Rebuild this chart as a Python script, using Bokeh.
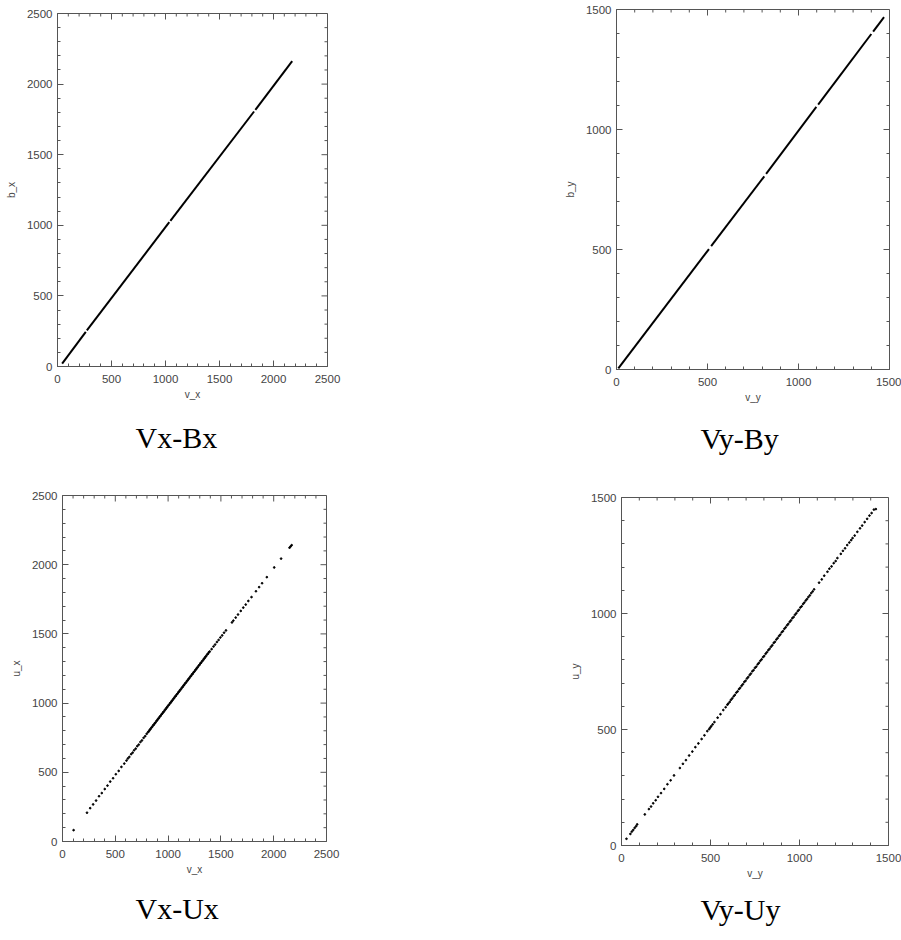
import math

from bokeh.plotting import figure
from bokeh.layouts import column, row
from bokeh.models import Range1d, FixedTicker, Title
from bokeh.embed import file_html
from bokeh.resources import INLINE

# ---- Vx-Bx : continuous runs of points (start / end of each run) ----
bx_v_start = [43, 272, 1045, 1832]
bx_v_end = [262, 1035, 1820, 2173]
bx_b_start = [20, 256, 1032, 1818]
bx_b_end = [245, 1022, 1806, 2162]

# ---- Vy-By : continuous runs of points ----
by_v_start = [10, 520, 822, 1108, 1410]
by_v_end = [508, 812, 1098, 1400, 1470]
by_b_start = [5, 514, 815, 1104, 1408]
by_b_end = [502, 805, 1094, 1398, 1468]

# ---- Vx-Ux : individual samples ----
ux_v = [105, 232, 262, 290, 318, 346, 372, 400, 426, 452, 479, 505, 532, 558, 585,
        606, 619, 633, 650, 664, 678, 693, 708, 722, 738, 752, 768, 783, 797,
        810, 818, 826, 833, 841, 850, 858, 866, 873, 881, 890, 898, 906, 913, 921,
        930, 938, 946, 953, 961, 970, 978, 986, 993, 1001, 1010, 1018, 1026, 1033,
        1041, 1050, 1058, 1066, 1073, 1081, 1090, 1098, 1106, 1113, 1121, 1130, 1138,
        1146, 1153, 1161, 1170, 1178, 1186, 1193, 1201, 1210, 1218, 1226, 1233, 1241,
        1250, 1258, 1266, 1273, 1281, 1290, 1298, 1306, 1313, 1321, 1330, 1338, 1346,
        1353, 1361, 1370, 1378, 1386, 1394,
        1412, 1430, 1445, 1462, 1478, 1495, 1512, 1530, 1548,
        1605, 1618, 1640, 1662, 1688, 1712, 1735, 1760, 1790,
        1832, 1862, 1890, 1935, 2005, 2070, 2150, 2160, 2170]
ux_u = [82, 208, 241, 268, 296, 327, 350, 379, 404, 433, 457, 486, 510, 539, 563,
        585, 600, 611, 631, 642, 659, 671, 689, 700, 719, 730, 749, 761, 778,
        790, 797, 807, 812, 822, 829, 839, 845, 854, 860, 871, 877, 887, 892, 902,
        909, 919, 925, 934, 940, 951, 957, 967, 972, 982, 989, 999, 1005, 1014,
        1020, 1031, 1037, 1047, 1052, 1062, 1069, 1079, 1085, 1094, 1100, 1111, 1117,
        1127, 1132, 1142, 1149, 1159, 1165, 1174, 1180, 1191, 1197, 1207, 1212, 1222,
        1229, 1239, 1245, 1254, 1260, 1271, 1277, 1287, 1292, 1302, 1309, 1319, 1325,
        1334, 1340, 1351, 1357, 1367, 1373,
        1390, 1409, 1423, 1441, 1456, 1474, 1489, 1509, 1525,
        1583, 1596, 1618, 1640, 1666, 1690, 1712, 1738, 1766,
        1808, 1838, 1866, 1910, 1980, 2044, 2123, 2132, 2141]

# ---- Vy-Uy : individual samples ----
uy_v = [28, 50, 58, 66, 74, 82, 88, 131, 154, 166, 178, 192, 205, 222, 240, 258, 276, 295,
        328, 345, 362, 380, 398, 415, 432, 450, 466, 482, 492, 498, 504,
        512, 522, 540, 556, 572, 585, 595,
        600, 608, 615, 622, 630, 637, 645, 652, 660, 667, 675, 682, 690, 697, 705, 712,
        720, 727, 735, 742, 750, 757, 765, 772, 780, 787, 795, 802, 810, 817, 825, 832,
        840, 847, 855, 862, 870, 877, 885, 892, 900, 907, 915, 922, 930, 937, 945, 952,
        960, 967, 975, 982, 990, 997, 1005, 1012, 1020, 1027, 1035, 1042,
        1050, 1058, 1066, 1074, 1082,
        1110, 1125, 1139, 1157, 1168, 1180, 1192, 1203, 1213,
        1232, 1244, 1256, 1268, 1280, 1290, 1298,
        1310, 1325, 1340, 1352, 1366, 1380, 1393, 1405, 1418, 1429]
uy_u = [29, 50, 60, 67, 76, 83, 91, 134, 157, 168, 182, 195, 210, 226, 244, 264, 281, 302,
        334, 352, 368, 388, 405, 424, 440, 459, 475, 493, 501, 508, 514,
        522, 532, 551, 566, 584, 596, 607,
        612, 619, 628, 634, 643, 649, 659, 664, 674, 680, 689, 695, 705, 710, 720, 726,
        735, 741, 751, 756, 766, 771, 781, 787, 796, 802, 812, 817, 827, 833, 842, 848,
        857, 863, 873, 878, 888, 894, 903, 909, 919, 924, 934, 940, 949, 955, 964, 970,
        980, 985, 995, 1001, 1010, 1016, 1026, 1031, 1041, 1047, 1056, 1062,
        1071, 1078, 1088, 1095, 1104,
        1133, 1147, 1163, 1180, 1193, 1203, 1217, 1226, 1239,
        1257, 1270, 1281, 1295, 1306, 1316, 1325,
        1336, 1352, 1367, 1379, 1394, 1408, 1422, 1433, 1448, 1450]

AX_COLOR = "#555555"
TXT_COLOR = "#444444"
MAJOR_LEN = 6
MINOR_LEN = 3


def style_axis(ax):
    ax.axis_line_color = AX_COLOR
    ax.axis_line_width = 1
    ax.major_tick_line_color = AX_COLOR
    ax.minor_tick_line_color = AX_COLOR
    ax.major_tick_in = MAJOR_LEN
    ax.major_tick_out = 0
    ax.minor_tick_in = MINOR_LEN
    ax.minor_tick_out = 0
    ax.major_label_text_font = "Liberation Sans"
    ax.major_label_text_font_size = "11.5px"
    ax.major_label_text_color = TXT_COLOR
    ax.axis_label_text_font = "Liberation Sans"
    ax.axis_label_text_font_size = "10px"
    ax.axis_label_text_font_style = "normal"
    ax.axis_label_text_color = TXT_COLOR


def mirror_ticks(p, xmax, ymax, major_x, minor_x, major_y, minor_y):
    # inward tick marks along the top and right edges of the box
    for vals, length in ((minor_x, MINOR_LEN), (major_x, MAJOR_LEN)):
        p.ray(x=vals, y=[ymax] * len(vals), length=length, length_units="screen",
              angle=-math.pi / 2, line_color=AX_COLOR, line_width=1)
    for vals, length in ((minor_y, MINOR_LEN), (major_y, MAJOR_LEN)):
        p.ray(x=[xmax] * len(vals), y=vals, length=length, length_units="screen",
              angle=math.pi, line_color=AX_COLOR, line_width=1)


def make_panel(width, height, left, right, top, bottom, xmax, ymax,
               xlabel, ylabel, caption, cap_offset, cap_standoff):
    p = figure(width=width, height=height,
               x_range=Range1d(0, xmax), y_range=Range1d(0, ymax),
               output_backend="svg", toolbar_location=None,
               min_border_left=left, min_border_right=right,
               min_border_top=top, min_border_bottom=bottom)
    p.grid.visible = False
    p.outline_line_color = AX_COLOR
    p.background_fill_color = "white"
    p.border_fill_color = "white"

    major_x = list(range(0, xmax + 1, 500))
    minor_x = [t for t in range(0, xmax + 1, 100) if t % 500]
    major_y = list(range(0, ymax + 1, 500))
    minor_y = [t for t in range(0, ymax + 1, 100) if t % 500]

    p.xaxis.ticker = FixedTicker(ticks=major_x, minor_ticks=minor_x)
    p.yaxis.ticker = FixedTicker(ticks=major_y, minor_ticks=minor_y)
    p.xaxis.axis_label = xlabel
    p.yaxis.axis_label = ylabel
    for ax in p.xaxis:
        style_axis(ax)
        ax.major_label_standoff = 8
        ax.axis_label_standoff = 3
    for ax in p.yaxis:
        style_axis(ax)
        ax.major_label_standoff = 5
        ax.axis_label_standoff = 7

    mirror_ticks(p, xmax, ymax, major_x, minor_x, major_y, minor_y)

    p.add_layout(Title(text=caption, align="left", offset=cap_offset,
                       standoff=cap_standoff,
                       text_font="Liberation Serif", text_font_size="30px",
                       text_font_style="normal", text_color="black"), "below")
    return p


p1 = make_panel(440, 470, 57, 113, 13, 104, 2500, 2500, "v_x", "b_x", "Vx-Bx", 78, 33)
p1.segment(x0=bx_v_start, y0=bx_b_start, x1=bx_v_end, y1=bx_b_end,
           line_color="black", line_width=2)

p2 = make_panel(461, 470, 176, 12, 9, 101, 1500, 1500, "v_y", "b_y", "Vy-By", 84, 28)
p2.segment(x0=by_v_start, y0=by_b_start, x1=by_v_end, y1=by_b_end,
           line_color="black", line_width=2)

p3 = make_panel(440, 470, 62, 114, 25, 99, 2500, 2500, "v_x", "u_x", "Vx-Ux", 73, 24)
p3.scatter(ux_v, ux_u, marker="circle", size=1.7, color="black")

p4 = make_panel(461, 470, 181, 13, 27, 95, 1500, 1500, "v_y", "u_y", "Vy-Uy", 79, 18)
p4.scatter(uy_v, uy_u, marker="circle", size=1.7, color="black")

# each panel sits in its own box so that its frame keeps its own margins
layout = column(row(column(p1), column(p2)), row(column(p3), column(p4)))

open("out.html", "w").write(file_html(layout, INLINE))
